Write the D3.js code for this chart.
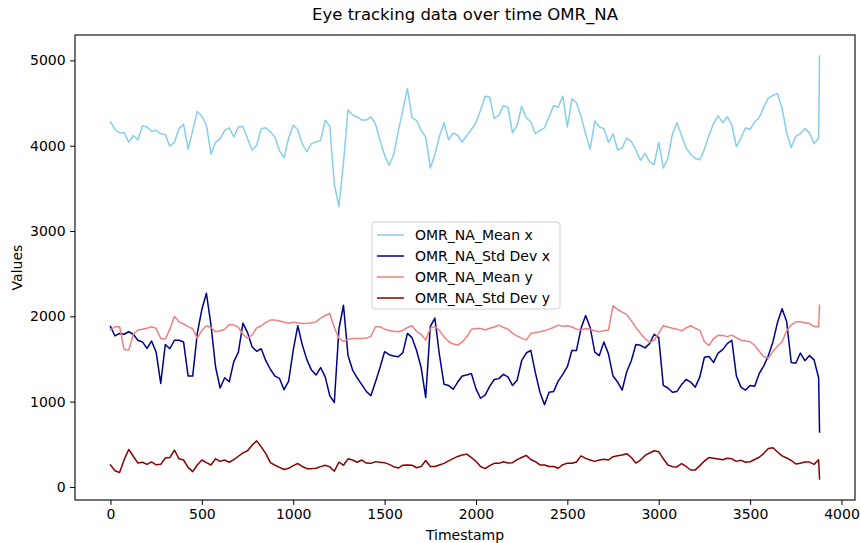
<!DOCTYPE html>
<html>
<head>
<meta charset="utf-8">
<script src="https://cdn.jsdelivr.net/npm/d3@7"></script>
<style>
  body { margin: 0; background: #fff; }
  svg { display: block; }
  text { font-family: "DejaVu Sans", sans-serif; fill: #000; }
</style>
</head>
<body>
<svg id="chart" width="860" height="543"></svg>
<script>
// Sample timestamps: every 25 units, plus the final recorded sample.
const timestamps = d3.range(0, 3876, 25).concat([3880]);

const meanX = [
  4280, 4190, 4150, 4155, 4040, 4120, 4070, 4230, 4220, 4170,
  4180, 4140, 4130, 3995, 4040, 4200, 4250, 3960, 4180, 4400,
  4345, 4240, 3900, 4040, 4083, 4180, 4210, 4103, 4220, 4225,
  4083, 3950, 4005, 4200, 4210, 4161, 4103, 3940, 3860, 4090,
  4240, 4190, 4020, 3930, 4024, 4044, 4063, 4300, 4230, 3550,
  3290, 3800, 4420, 4360, 4337, 4300, 4300, 4337, 4258, 4060,
  3890, 3770, 3900, 4170, 4420, 4670, 4330, 4295, 4180, 4100,
  3740, 3890, 4110, 4270, 4070, 4150, 4120, 4044, 4120, 4190,
  4270, 4415, 4580, 4570, 4320, 4356, 4470, 4450, 4150, 4239,
  4460, 4330, 4278, 4140, 4180, 4210, 4340, 4470, 4450, 4580,
  4220, 4550, 4500, 4340, 4140, 3960, 4290, 4220, 4200, 4040,
  4140, 3950, 3975, 4090, 4050, 3950, 3830, 3910, 3810, 3780,
  4040, 3740, 3850, 4140, 4270, 4120, 3970, 3900, 3850, 3835,
  3960, 4122, 4260, 4350, 4270, 4340, 4245, 3990, 4090, 4210,
  4190, 4280, 4330, 4454, 4560, 4590, 4610, 4440, 4150, 3980,
  4110, 4141, 4200, 4150, 4024, 4090, 5050
];

const stdDevX = [
  1880, 1770, 1800, 1790, 1819, 1790, 1720, 1700, 1624, 1710,
  1580, 1214, 1670, 1620, 1720, 1720, 1700, 1300, 1300, 1800,
  2080, 2270, 1900, 1409, 1160, 1280, 1233, 1470, 1580, 1920,
  1810, 1643, 1590, 1620, 1480, 1380, 1300, 1272, 1140, 1240,
  1600, 1890, 1663, 1490, 1370, 1312, 1400, 1290, 1070, 990,
  1850, 2130, 1540, 1370, 1280, 1200, 1120, 1070, 1230, 1400,
  1585, 1550, 1535, 1526, 1575, 1800, 1750, 1600, 1400, 1050,
  1880, 1980, 1550, 1205, 1190, 1145, 1230, 1300, 1312, 1331,
  1150, 1040, 1077, 1180, 1260, 1270, 1320, 1290, 1190, 1250,
  1480, 1570, 1600, 1340, 1110, 965, 1110, 1120, 1240, 1320,
  1410, 1600, 1600, 1860, 2010, 1870, 1580, 1540, 1700, 1560,
  1300, 1230, 1136, 1350, 1480, 1670, 1660, 1630, 1680, 1790,
  1750, 1190, 1160, 1110, 1120, 1200, 1260, 1230, 1170, 1290,
  1520, 1530, 1460, 1570, 1610, 1680, 1720, 1300, 1170, 1136,
  1190, 1180, 1330, 1420, 1540, 1700, 1930, 2090, 1940, 1460,
  1450, 1570, 1480, 1540, 1490, 1280, 645
];

const meanY = [
  1840, 1878, 1878, 1610, 1604, 1790, 1840, 1850, 1860, 1878,
  1860, 1741, 1735, 1850, 2000, 1935, 1910, 1880, 1855, 1741,
  1835, 1890, 1870, 1819, 1830, 1845, 1905, 1900, 1870, 1790,
  1745, 1780, 1865, 1890, 1930, 1956, 1956, 1945, 1930, 1920,
  1930, 1925, 1917, 1920, 1925, 1935, 1980, 2010, 2034, 1870,
  1745, 1705, 1730, 1741, 1741, 1741, 1745, 1765, 1878, 1878,
  1850, 1835, 1825, 1820, 1835, 1870, 1890, 1825, 1790, 1721,
  1860, 1880, 1835, 1760, 1705, 1675, 1663, 1700, 1760, 1850,
  1858, 1858, 1840, 1860, 1875, 1895, 1870, 1850, 1800, 1770,
  1745, 1721, 1800, 1810, 1819, 1830, 1850, 1870, 1897, 1885,
  1890, 1875, 1850, 1839, 1858, 1845, 1830, 1819, 1830, 1839,
  2125, 2080, 2050, 2020, 1950, 1870, 1800, 1740, 1695, 1720,
  1800, 1890, 1875, 1860, 1850, 1830, 1865, 1890, 1860, 1835,
  1702, 1660, 1740, 1778, 1775, 1762, 1780, 1750, 1720, 1712,
  1702, 1660, 1590, 1526, 1510, 1590, 1650, 1702, 1830, 1900,
  1936, 1936, 1925, 1915, 1880, 1878, 2131
];

const stdDevY = [
  258, 190, 170, 320, 440, 360, 280, 290, 265, 295,
  260, 265, 340, 345, 433, 330, 316, 230, 180, 258,
  316, 285, 258, 330, 300, 315, 290, 320, 360, 400,
  425, 490, 540, 470, 390, 285, 255, 230, 205, 219,
  250, 275, 240, 215, 215, 220, 238, 255, 235, 185,
  290, 255, 330, 316, 290, 316, 280, 277, 297, 290,
  285, 265, 238, 222, 255, 258, 255, 225, 240, 310,
  240, 240, 258, 277, 305, 333, 358, 375, 385, 345,
  300, 240, 215, 250, 277, 277, 295, 280, 285, 320,
  345, 370, 322, 297, 258, 258, 240, 240, 219, 262,
  277, 277, 293, 365, 335, 316, 300, 316, 326, 316,
  355, 365, 375, 390, 345, 280, 315, 370, 398, 425,
  414, 330, 258, 238, 235, 275, 240, 199, 200, 250,
  305, 345, 336, 328, 320, 336, 330, 300, 312, 290,
  296, 322, 348, 394, 450, 460, 410, 365, 340, 310,
  270, 278, 292, 292, 265, 320, 95
];

const seriesNames = ["OMR_NA_Mean x", "OMR_NA_Std Dev x", "OMR_NA_Mean y", "OMR_NA_Std Dev y"];
const seriesValues = [meanX, stdDevX, meanY, stdDevY];
const seriesColors = ["skyblue", "darkblue", "lightcoral", "darkred"];
const xTicks = [0, 500, 1000, 1500, 2000, 2500, 3000, 3500, 4000];
const yTicks = [0, 1000, 2000, 3000, 4000, 5000];

const W = 860, H = 543;
const margin = { top: 35, right: 5, bottom: 43, left: 75 };
const pw = W - margin.left - margin.right;
const ph = H - margin.top - margin.bottom;

// 5% padding on each side of the data extent
function padded(ext) {
  const r = ext[1] - ext[0];
  return [ext[0] - 0.05 * r, ext[1] + 0.05 * r];
}

const x = d3.scaleLinear()
  .domain(padded(d3.extent(timestamps)))
  .range([0, pw]);
const y = d3.scaleLinear()
  .domain(padded(d3.extent(seriesValues.flat())))
  .range([ph, 0]);

const svg = d3.select("#chart");
svg.append("rect").attr("width", W).attr("height", H).attr("fill", "#fff");

const g = svg.append("g").attr("transform", `translate(${margin.left},${margin.top})`);

// series lines
const line = d3.line().x((d, i) => x(timestamps[i])).y(d => y(d));
seriesValues.forEach((vals, k) => {
  g.append("path")
    .datum(vals)
    .attr("fill", "none")
    .attr("stroke", seriesColors[k])
    .attr("stroke-width", 1.5)
    .attr("stroke-linejoin", "round")
    .attr("stroke-linecap", "square")
    .attr("d", line);
});

// axes
const xAxis = g.append("g")
  .attr("transform", `translate(0,${ph})`)
  .call(d3.axisBottom(x).tickValues(xTicks).tickFormat(d3.format("d")).tickSize(4.9).tickPadding(4.5));
const yAxis = g.append("g")
  .call(d3.axisLeft(y).tickValues(yTicks).tickFormat(d3.format("d")).tickSize(4.9).tickPadding(4.5));
[xAxis, yAxis].forEach(a => {
  a.select(".domain").remove();
  a.selectAll(".tick line").attr("stroke", "#000").attr("stroke-width", 1);
  a.selectAll(".tick text").attr("font-size", 14).attr("font-family", "DejaVu Sans").attr("fill", "#000");
});

// frame
g.append("rect")
  .attr("x", 0).attr("y", 0).attr("width", pw).attr("height", ph)
  .attr("fill", "none").attr("stroke", "#000").attr("stroke-width", 1.1);

// title and axis labels
svg.append("text")
  .attr("x", margin.left + pw / 2).attr("y", 20)
  .attr("text-anchor", "middle").attr("font-size", 16.5)
  .text("Eye tracking data over time OMR_NA");
svg.append("text")
  .attr("x", margin.left + pw / 2).attr("y", 540)
  .attr("text-anchor", "middle").attr("font-size", 14)
  .text("Timestamp");
svg.append("text")
  .attr("transform", `translate(22,${margin.top + ph / 2}) rotate(-90)`)
  .attr("text-anchor", "middle").attr("font-size", 14)
  .text("Values");

// legend
const leg = svg.append("g").attr("transform", "translate(372,222)");
leg.append("rect")
  .attr("width", 188).attr("height", 87).attr("rx", 3)
  .attr("fill", "#fff").attr("fill-opacity", 0.8)
  .attr("stroke", "#d0d0d0").attr("stroke-width", 1);
seriesNames.forEach((name, k) => {
  const cy = 13 + k * 21;
  leg.append("line")
    .attr("x1", 5).attr("x2", 32).attr("y1", cy).attr("y2", cy)
    .attr("stroke", seriesColors[k]).attr("stroke-width", 1.5);
  leg.append("text")
    .attr("x", 43).attr("y", cy + 5)
    .attr("font-size", 14)
    .text(name);
});
</script>
</body>
</html>
